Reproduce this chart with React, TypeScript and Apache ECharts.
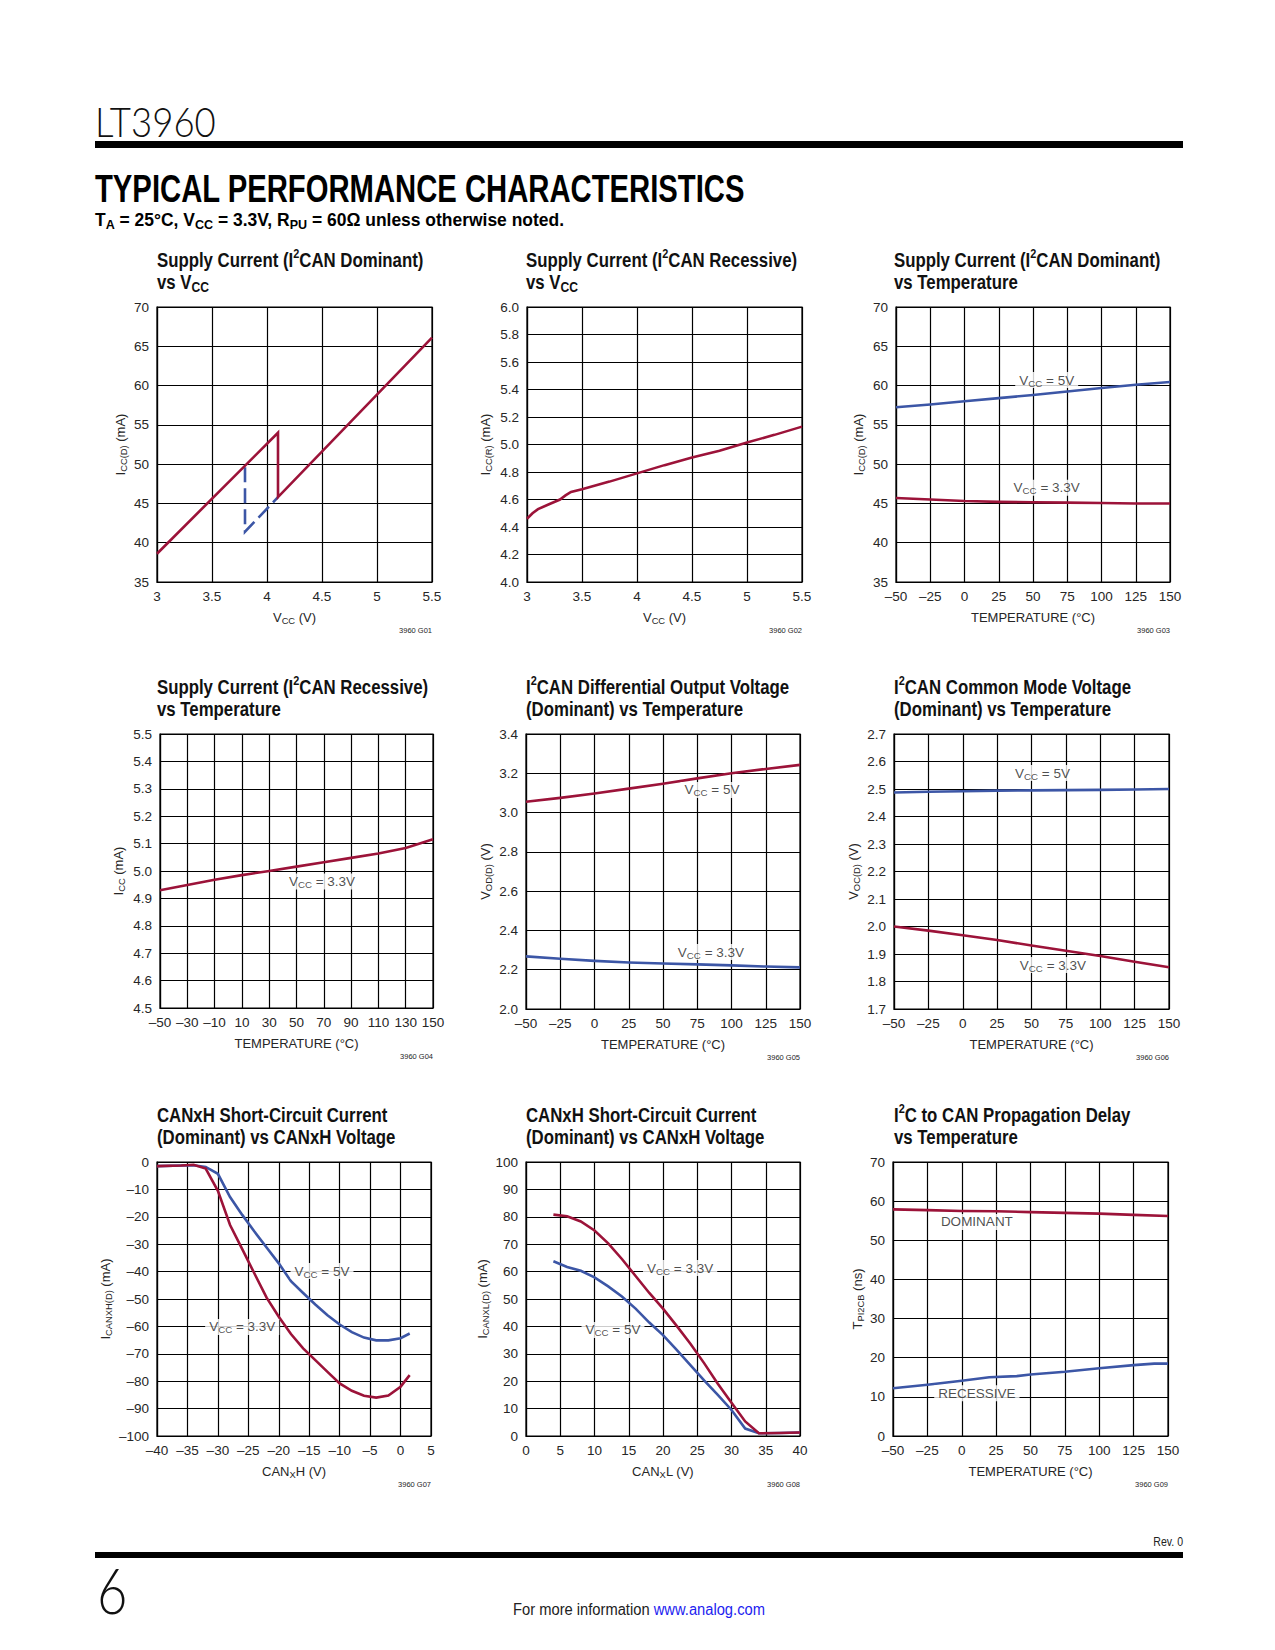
import React, { useEffect, useRef } from 'react';
import * as echarts from 'echarts';

// ---------------- data ----------------
const RED = '#9c1339';
const BLUE = '#3c56a6';

// axis ranges [min, max, interval]
const VCC_AXIS = [3, 5.5, 0.5];
const TEMP_AXIS = [-50, 150, 25];
const G04_TEMP_AXIS = [0, 200, 20]; // temperature + 50 (ticks -50..150 step 20)
const G01_Y = [35, 70, 5];
const G02_Y = [4.0, 6.0, 0.2];
const G03_Y = [35, 70, 5];
const G04_Y = [4.5, 5.5, 0.1];
const G05_Y = [2.0, 3.4, 0.2];
const G06_Y = [1.7, 2.7, 0.1];
const G07_X = [-40, 5, 5];
const G07_Y = [-100, 0, 10];
const G08_X = [0, 40, 5];
const G08_Y = [0, 100, 10];
const G09_Y = [0, 70, 10];

// G01 supply current (dominant) vs VCC
const G01_VCC = [3, 4.1, 4.1, 5.5];
const G01_ICC = [38.6, 54.0, 45.8, 66.1];
const G01_HYST_VCC = [3.8, 3.8, 4.1];
const G01_HYST_ICC = [49.6, 41.4, 45.8];

// G02 supply current (recessive) vs VCC
const G02_VCC = [3, 3.05, 3.1, 3.2, 3.3, 3.35, 3.4, 3.5, 3.75, 4, 4.25, 4.5, 4.75, 5, 5.25, 5.5];
const G02_ICC = [4.46, 4.5, 4.53, 4.565, 4.6, 4.63, 4.655, 4.675, 4.73, 4.79, 4.85, 4.905, 4.955, 5.015, 5.07, 5.13];

// temperatures
const TEMPS = [-50, -25, 0, 25, 50, 75, 100, 125, 150];

// G03 supply current (dominant) vs temperature
const G03_5V = [57.25, 57.6, 58.0, 58.4, 58.8, 59.25, 59.7, 60.1, 60.45];
const G03_33V = [45.7, 45.5, 45.3, 45.2, 45.15, 45.1, 45.05, 45.0, 45.0];

// G04 supply current (recessive) vs temperature
const G04_TEMPS = [-50, -30, -10, 10, 30, 50, 70, 90, 110, 130, 150];
const G04_33V = [4.93, 4.949, 4.968, 4.985, 5.0, 5.016, 5.032, 5.048, 5.064, 5.084, 5.116];

// G05 differential output voltage
const G05_5V = [3.055, 3.075, 3.097, 3.122, 3.147, 3.174, 3.2, 3.222, 3.243];
const G05_33V = [2.268, 2.256, 2.245, 2.237, 2.232, 2.227, 2.222, 2.216, 2.212];

// G06 common mode voltage
const G06_5V = [2.487, 2.49, 2.492, 2.494, 2.495, 2.496, 2.497, 2.498, 2.5];
const G06_33V = [2.0, 1.985, 1.968, 1.951, 1.931, 1.912, 1.893, 1.872, 1.852];

// G07 CANxH short-circuit current
const G07_V = [-40, -36, -34, -32, -30, -28, -26, -24, -22, -20, -18, -16, -14, -12, -10, -8, -6, -4, -2, 0, 1.5];
const G07_33V = [-1.5, -1.3, -1.0, -2.4, -10.5, -23, -31.8, -40.7, -49.5, -56.5, -62.8, -68, -72.3, -76.6, -80.8, -83.5, -85.3, -86, -85.2, -82, -77.8];
const G07_5V = [-1.5, -1.3, -1.2, -1.8, -4.3, -12.8, -19.3, -25.4, -31.2, -37, -43.5, -47.8, -52, -55.9, -59.3, -62.1, -64.1, -65.1, -65.1, -64.3, -62.6];

// G08 CANxL short-circuit current
const G08_V = [4, 6, 8, 10, 12, 14, 16, 18, 20, 22, 24, 26, 28, 30, 32, 34, 37, 40];
const G08_33V = [80.8, 80.2, 78.3, 75, 70.3, 64.6, 58.4, 52.2, 46.5, 40.2, 33.7, 26.6, 19.1, 12.1, 5.3, 1.0, 1.1, 1.3];
const G08_5V = [63.8, 61.7, 60.3, 57.9, 54.6, 50.9, 46.5, 41.4, 36.8, 31.4, 25.9, 20.3, 15.0, 9.5, 2.7, 1.0, 1.1, 1.3];

// G09 propagation delay
const G09_DOM = [57.9, 57.7, 57.5, 57.4, 57.2, 57.0, 56.8, 56.5, 56.2];
const G09_REC_T = [-50, -25, 0, 20, 40, 50, 75, 100, 125, 140, 150];
const G09_REC = [12.2, 13.1, 14.1, 15.0, 15.3, 15.7, 16.4, 17.3, 18.1, 18.5, 18.5];

// ---------------- helpers ----------------
const FONT = '"Liberation Sans", Arial, Helvetica, sans-serif';
const LIGHT = 'Lato, "Liberation Sans", Arial, sans-serif';
const INK = '#262626';

const zip = (xs: number[], ys: number[], shift = 0) => xs.map((x, i) => [x + shift, ys[i]]);

function richFor(size: number, weight: string | number, color: string, family: string = FONT) {
  return {
    sub: {
      fontSize: size * 0.72, fontFamily: family, fontWeight: weight, color, fill: color,
      verticalAlign: 'bottom', lineHeight: size * 0.72,
    },
    sup: {
      fontSize: size * 0.65, fontFamily: family, fontWeight: weight, color, fill: color,
      verticalAlign: 'top', lineHeight: size * 0.7,
    },
    link: {
      fontSize: size, fontFamily: family, fontWeight: weight, color: '#1d1df0', fill: '#1d1df0',
      lineHeight: size * 1.2,
    },
  };
}

function txt(x: number, baseline: number, text: string, size: number, o: any = {}) {
  const weight = o.weight || 'normal';
  const color = o.color || '#111';
  const align = o.align || 'left';
  const family = o.family || FONT;
  return {
    type: 'text',
    x,
    y: baseline - 0.35 * size,
    scaleX: o.scaleX || 1,
    silent: true,
    z: 10,
    style: {
      text,
      fontSize: size,
      fontFamily: family,
      fontWeight: weight,
      fill: color,
      align,
      textAlign: align,
      verticalAlign: 'middle',
      textVerticalAlign: 'middle',
      lineHeight: size * 1.2,
      rich: richFor(size, weight, color, family),
    },
  };
}

const dash = (v: number) => String(Math.round(v * 1000) / 1000).replace('-', '\u2013');
const dec1 = (v: number) => v.toFixed(1);

type Line = { data: number[][]; color: string; dashed?: boolean };
type Note = { at: number[]; text: string };
type Spec = {
  box: number[];
  x: number[];
  y: number[];
  xFmt: (v: number) => string;
  yFmt: (v: number) => string;
  xName: string;
  yName: string;
  yGap: number;
  title: string[];
  code: string;
  lines: Line[];
  notes: Note[];
};

const TEMP_NAME = 'TEMPERATURE (\u00B0C)';

const SPECS: Spec[] = [
  {
    box: [157, 307, 275, 275], x: VCC_AXIS, y: G01_Y, xFmt: dash, yFmt: dash,
    xName: 'V{sub|CC} (V)', yName: 'I{sub|CC(D)} (mA)', yGap: 29,
    title: ['Supply Current (I{sup|2}CAN Dominant)', 'vs V{sub|CC}'], code: '3960 G01',
    lines: [
      { data: zip(G01_HYST_VCC, G01_HYST_ICC), color: BLUE, dashed: true },
      { data: zip(G01_VCC, G01_ICC), color: RED },
    ],
    notes: [],
  },
  {
    box: [527, 307, 275, 275], x: VCC_AXIS, y: G02_Y, xFmt: dash, yFmt: dec1,
    xName: 'V{sub|CC} (V)', yName: 'I{sub|CC(R)} (mA)', yGap: 34,
    title: ['Supply Current (I{sup|2}CAN Recessive)', 'vs V{sub|CC}'], code: '3960 G02',
    lines: [{ data: zip(G02_VCC, G02_ICC), color: RED }],
    notes: [],
  },
  {
    box: [896, 307, 274, 275], x: TEMP_AXIS, y: G03_Y, xFmt: dash, yFmt: dash,
    xName: TEMP_NAME, yName: 'I{sub|CC(D)} (mA)', yGap: 30,
    title: ['Supply Current (I{sup|2}CAN Dominant)', 'vs Temperature'], code: '3960 G03',
    lines: [
      { data: zip(TEMPS, G03_5V), color: BLUE },
      { data: zip(TEMPS, G03_33V), color: RED },
    ],
    notes: [
      { at: [60, 60.7], text: 'V{sub|CC} = 5V' },
      { at: [60, 47], text: 'V{sub|CC} = 3.3V' },
    ],
  },
  {
    box: [160, 734, 273, 274], x: G04_TEMP_AXIS, y: G04_Y, xFmt: (v) => dash(v - 50), yFmt: dec1,
    xName: TEMP_NAME, yName: 'I{sub|CC} (mA)', yGap: 34,
    title: ['Supply Current (I{sup|2}CAN Recessive)', 'vs Temperature'], code: '3960 G04',
    lines: [{ data: zip(G04_TEMPS, G04_33V, 50), color: RED }],
    notes: [{ at: [68.7 + 50, 4.962], text: 'V{sub|CC} = 3.3V' }],
  },
  {
    box: [526, 734, 274, 275], x: TEMP_AXIS, y: G05_Y, xFmt: dash, yFmt: dec1,
    xName: TEMP_NAME, yName: 'V{sub|OD(D)} (V)', yGap: 33,
    title: ['I{sup|2}CAN Differential Output Voltage', '(Dominant) vs Temperature'], code: '3960 G05',
    lines: [
      { data: zip(TEMPS, G05_5V), color: RED },
      { data: zip(TEMPS, G05_33V), color: BLUE },
    ],
    notes: [
      { at: [85.8, 3.115], text: 'V{sub|CC} = 5V' },
      { at: [85, 2.29], text: 'V{sub|CC} = 3.3V' },
    ],
  },
  {
    box: [894, 734, 275, 275], x: TEMP_AXIS, y: G06_Y, xFmt: dash, yFmt: dec1,
    xName: TEMP_NAME, yName: 'V{sub|OC(D)} (V)', yGap: 33,
    title: ['I{sup|2}CAN Common Mode Voltage', '(Dominant) vs Temperature'], code: '3960 G06',
    lines: [
      { data: zip(TEMPS, G06_5V), color: BLUE },
      { data: zip(TEMPS, G06_33V), color: RED },
    ],
    notes: [
      { at: [58, 2.558], text: 'V{sub|CC} = 5V' },
      { at: [65.6, 1.86], text: 'V{sub|CC} = 3.3V' },
    ],
  },
  {
    box: [157, 1162, 274, 274], x: G07_X, y: G07_Y, xFmt: dash, yFmt: dash,
    xName: 'CAN{sub|X}H (V)', yName: 'I{sub|CANXH(D)} (mA)', yGap: 44,
    title: ['CANxH Short-Circuit Current', '(Dominant) vs CANxH Voltage'], code: '3960 G07',
    lines: [
      { data: zip(G07_V, G07_5V), color: BLUE },
      { data: zip(G07_V, G07_33V), color: RED },
    ],
    notes: [
      { at: [-12.9, -39.8], text: 'V{sub|CC} = 5V' },
      { at: [-26, -60.2], text: 'V{sub|CC} = 3.3V' },
    ],
  },
  {
    box: [526, 1162, 274, 274], x: G08_X, y: G08_Y, xFmt: dash, yFmt: dash,
    xName: 'CAN{sub|X}L (V)', yName: 'I{sub|CANXL(D)} (mA)', yGap: 36,
    title: ['CANxH Short-Circuit Current', '(Dominant) vs CANxH Voltage'], code: '3960 G08',
    lines: [
      { data: zip(G08_V, G08_5V), color: BLUE },
      { data: zip(G08_V, G08_33V), color: RED },
    ],
    notes: [
      { at: [22.5, 61.3], text: 'V{sub|CC} = 3.3V' },
      { at: [12.7, 38.7], text: 'V{sub|CC} = 5V' },
    ],
  },
  {
    box: [893, 1162, 275, 274], x: TEMP_AXIS, y: G09_Y, xFmt: dash, yFmt: dash,
    xName: TEMP_NAME, yName: 'T{sub|PI2CB} (ns)', yGap: 28,
    title: ['I{sup|2}C to CAN Propagation Delay', 'vs Temperature'], code: '3960 G09',
    lines: [
      { data: zip(TEMPS, G09_DOM), color: RED },
      { data: zip(G09_REC_T, G09_REC), color: BLUE },
    ],
    notes: [
      { at: [11, 54.7], text: 'DOMINANT' },
      { at: [11, 10.9], text: 'RECESSIVE' },
    ],
  },
];

const TITLE_COLS = [157, 526, 894];

function buildOption() {
  const nameStyle = {
    fontSize: 13, color: INK, fontFamily: FONT, lineHeight: 16,
    rich: richFor(13, 'normal', INK),
  };
  const grid: any[] = [];
  const xAxis: any[] = [];
  const yAxis: any[] = [];
  const series: any[] = [];
  const elements: any[] = [];

  SPECS.forEach((s, i) => {
    const [left, top, width, height] = s.box;
    grid.push({ left, top, width, height, show: true, borderColor: '#000', borderWidth: 1.2, containLabel: false });
    const common = {
      type: 'value',
      gridIndex: i,
      nameLocation: 'middle',
      nameTextStyle: nameStyle,
      axisLine: { show: true, onZero: false, lineStyle: { color: '#000', width: 1.2 } },
      axisTick: { show: false },
      splitLine: { show: true, lineStyle: { color: '#000', width: 1.2 } },
    };
    xAxis.push({
      ...common,
      min: s.x[0], max: s.x[1], interval: s.x[2],
      name: s.xName, nameGap: 27,
      axisLabel: {
        margin: 7, fontSize: 13.5, color: INK, fontFamily: FONT, formatter: s.xFmt,
        showMinLabel: true, showMaxLabel: true,
      },
    });
    yAxis.push({
      ...common,
      min: s.y[0], max: s.y[1], interval: s.y[2],
      name: s.yName, nameGap: s.yGap,
      axisLabel: {
        margin: 8, fontSize: 13.5, color: INK, fontFamily: FONT, formatter: s.yFmt,
        showMinLabel: true, showMaxLabel: true,
      },
    });
    s.lines.forEach((ln) => {
      series.push({
        type: 'line', xAxisIndex: i, yAxisIndex: i, data: ln.data,
        showSymbol: false, symbol: 'none', silent: true, z: 3,
        lineStyle: { color: ln.color, width: 2.6, type: ln.dashed ? [15, 6] : 'solid', cap: 'butt', join: 'miter' },
      });
    });
    s.notes.forEach((n) => {
      series.push({
        type: 'scatter', xAxisIndex: i, yAxisIndex: i, data: [n.at],
        symbol: 'circle', symbolSize: 0, itemStyle: { color: 'rgba(0,0,0,0)' }, silent: true, z: 5,
        label: {
          show: true, position: 'inside', formatter: n.text,
          fontSize: 13.5, color: '#1e1e1e', fontFamily: FONT, lineHeight: 16,
          backgroundColor: '#ffffff', padding: [0, 4, 0, 4],
          rich: richFor(13.5, 'normal', '#1e1e1e'),
        },
      });
    });
    // titles
    const col = TITLE_COLS[i % 3];
    elements.push(txt(col, top - 40, s.title[0], 21, { weight: 'bold', scaleX: 0.8, color: '#111' }));
    elements.push(txt(col, top - 18, s.title[1], 21, { weight: 'bold', scaleX: 0.8, color: '#111' }));
    // figure code
    elements.push(txt(left + width, top + height + 51, s.code, 7.5, { align: 'right', color: INK }));
  });

  // page header
  elements.push(txt(95, 135, 'LT3960', 42, { scaleX: 0.87, color: '#111', family: LIGHT, weight: 300 }));
  elements.push({ type: 'rect', shape: { x: 95, y: 141, width: 1088, height: 7 }, style: { fill: '#000' }, silent: true });
  elements.push(txt(95, 202, 'TYPICAL PERFORMANCE CHARACTERISTICS', 39, { weight: 'bold', scaleX: 0.75, color: '#000' }));
  elements.push(txt(95, 226, 'T{sub|A} = 25\u00B0C, V{sub|CC} = 3.3V, R{sub|PU} = 60\u03A9 unless otherwise noted.', 18, { weight: 'bold', scaleX: 0.97, color: '#000' }));

  // footer
  elements.push(txt(1183, 1546, 'Rev. 0', 12, { align: 'right', scaleX: 0.88, color: '#222' }));
  elements.push({ type: 'rect', shape: { x: 95, y: 1552, width: 1088, height: 6 }, style: { fill: '#000' }, silent: true });
  elements.push(txt(97, 1611, '6', 64, { scaleX: 0.82, color: '#111', family: LIGHT, weight: 300 }));
  elements.push(txt(639, 1615, 'For more information {link|www.analog.com}', 16, { align: 'center', scaleX: 0.92, color: '#222' }));

  return {
    animation: false,
    backgroundColor: '#ffffff',
    textStyle: { fontFamily: FONT },
    grid,
    xAxis,
    yAxis,
    series,
    graphic: { elements },
  };
}

export default function App() {
  const ref = useRef<HTMLDivElement>(null);
  useEffect(() => {
    document.body.style.margin = '0';
    const chart = echarts.init(ref.current as HTMLDivElement, null, { renderer: 'svg' });
    chart.setOption(buildOption() as any);
    return () => chart.dispose();
  }, []);
  return <div ref={ref} style={{ width: 1275, height: 1650 }} />;
}
